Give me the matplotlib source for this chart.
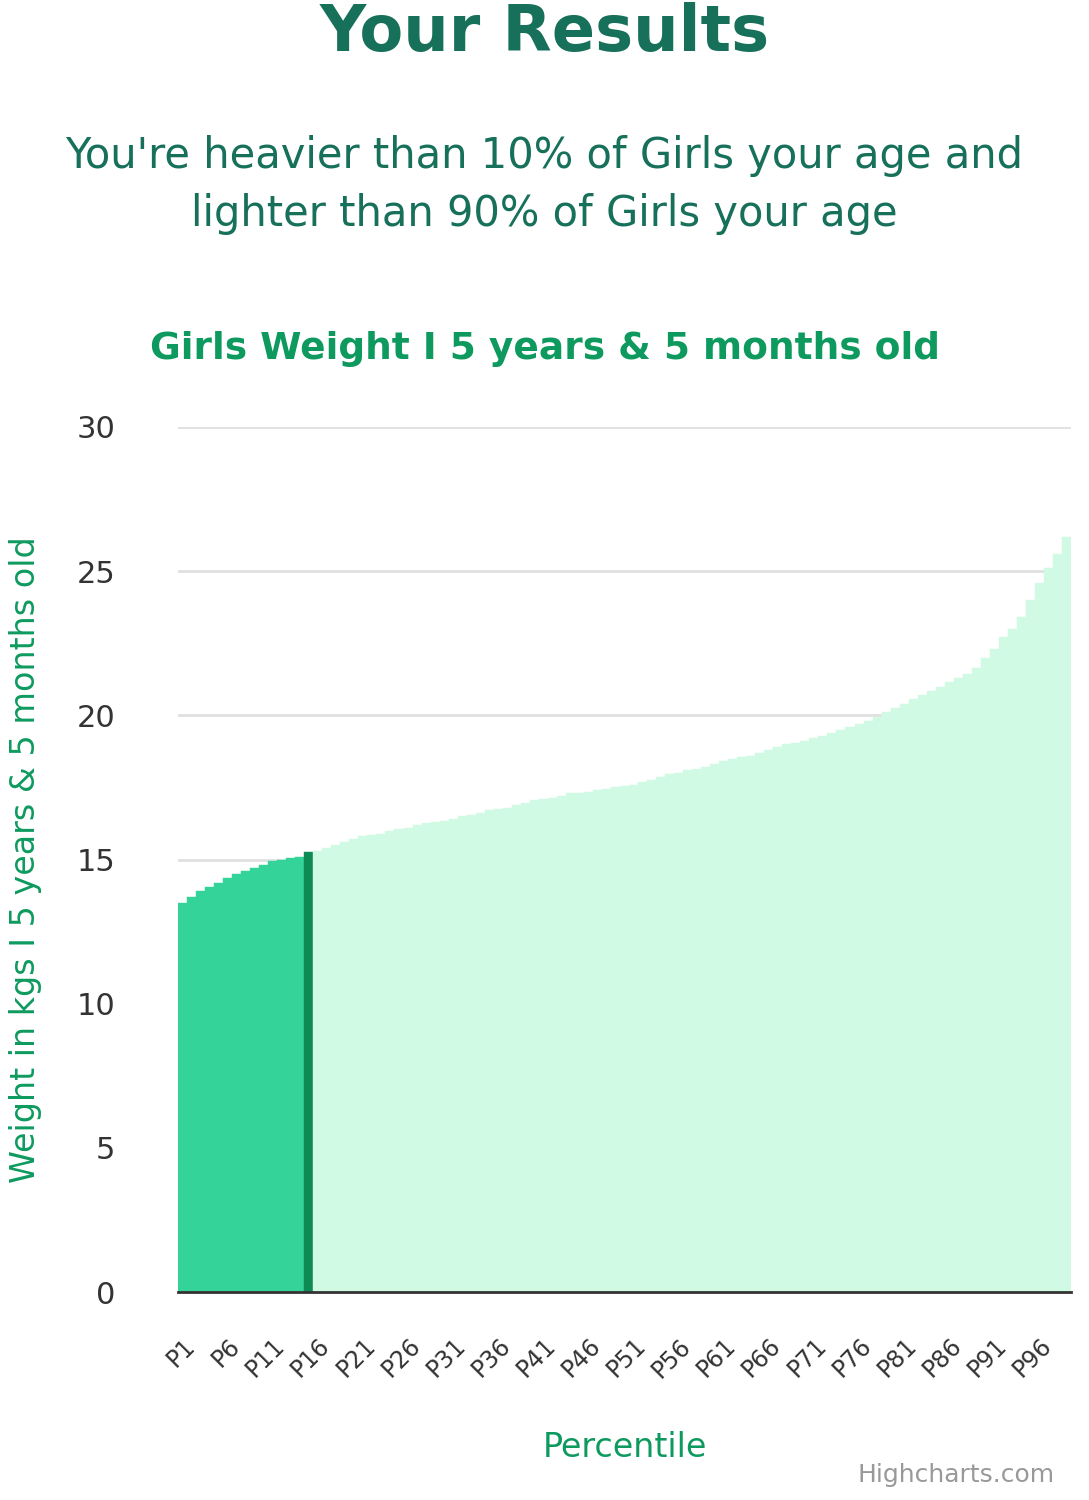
import matplotlib
matplotlib.use("Agg")
import matplotlib.pyplot as plt
import numpy as np

weights = [
    13.5, 13.7, 13.9, 14.05, 14.2, 14.35, 14.5, 14.6, 14.7, 14.8,
    14.95, 15.0, 15.05, 15.1, 15.25, 15.3, 15.4, 15.5, 15.6, 15.7,
    15.8, 15.85, 15.9, 16.0, 16.05, 16.1, 16.2, 16.25, 16.3, 16.35,
    16.4, 16.5, 16.55, 16.6, 16.7, 16.75, 16.8, 16.9, 16.95, 17.05,
    17.1, 17.15, 17.2, 17.3, 17.3, 17.35, 17.4, 17.45, 17.5, 17.55,
    17.6, 17.7, 17.75, 17.85, 17.95, 18.0, 18.1, 18.15, 18.2, 18.3,
    18.4, 18.5, 18.55, 18.6, 18.7, 18.8, 18.9, 19.0, 19.05, 19.1,
    19.2, 19.3, 19.4, 19.5, 19.6, 19.7, 19.8, 19.95, 20.1, 20.25,
    20.4, 20.55, 20.7, 20.85, 21.0, 21.15, 21.3, 21.45, 21.65, 22.0,
    22.3, 22.7, 23.0, 23.4, 24.0, 24.6, 25.1, 25.6, 26.2,
]
labels = [f"P{i}" for i in range(1, len(weights) + 1)]
user_index = 14  # dark bar

colors = []
for i in range(len(weights)):
    if i < user_index:
        colors.append("#34d399")
    elif i == user_index:
        colors.append("#0e8a55")
    else:
        colors.append("#d1fae5")

fig = plt.figure(figsize=(10.89, 15), dpi=100)
ax = fig.add_axes([178 / 1089, 1 - 1292 / 1500, (1071 - 178) / 1089, (1292 - 427) / 1500])

x = np.arange(len(weights))
ax.bar(x, weights, width=1.0, color=colors, edgecolor=colors, linewidth=0.3)
ax.set_xlim(-0.5, len(weights) - 0.5)
ax.set_ylim(0, 30)
ax.set_yticks(range(0, 31, 5))
ax.tick_params(axis="y", length=0, labelsize=22, colors="#333333", pad=45)
ax.yaxis.grid(True, color="#e0e0e0", linewidth=2)
ax.set_axisbelow(True)
for s in ["top", "right", "left"]:
    ax.spines[s].set_visible(False)
ax.spines["bottom"].set_color("#333333")
ax.spines["bottom"].set_linewidth(2)

ax.set_xticks(x[::5])
ax.set_xticklabels(labels[::5], rotation=45, ha="right", rotation_mode="anchor", fontsize=17, color="#333333")
ax.tick_params(axis="x", length=0, pad=30)

ax.set_xlabel("Percentile", fontsize=24, color="#0e9a5f", labelpad=35)
ax.set_ylabel("Weight in kgs I 5 years & 5 months old", fontsize=24, color="#0e9a5f", labelpad=25)

fig.text(0.5, 1 - 33 / 1500, "Your Results", ha="center", va="center", fontsize=46,
         fontweight="bold", color="#17705a")
fig.text(0.5, 1 - 185 / 1500,
         "You're heavier than 10% of Girls your age and\nlighter than 90% of Girls your age",
         ha="center", va="center", fontsize=30, color="#17705a", linespacing=1.5)
fig.text(0.5, 1 - 349 / 1500, "Girls Weight I 5 years & 5 months old", ha="center", va="center",
         fontsize=27, fontweight="bold", color="#0e9a5f")
fig.text(1055 / 1089, 1 - 1475 / 1500, "Highcharts.com", ha="right", va="center",
         fontsize=18, color="#999999")

fig.savefig("out.png", dpi=100)
